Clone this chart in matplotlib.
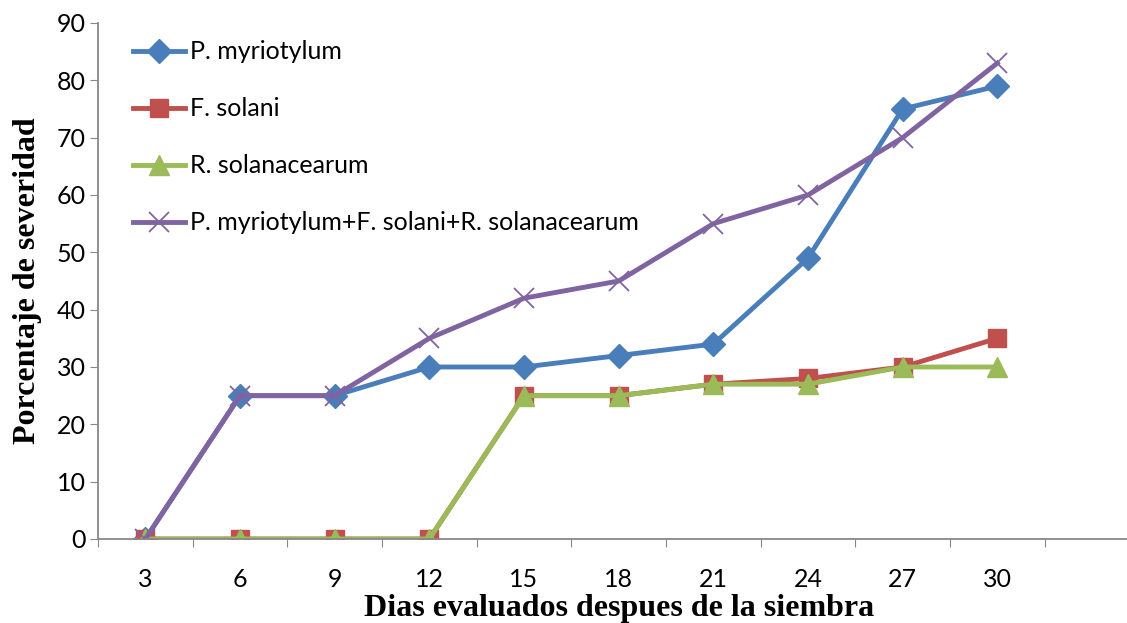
import numpy as np
import matplotlib.pyplot as plt

dias = ['3', '6', '9', '12', '15', '18', '21', '24', '27', '30']
p_myriotylum = [0, 25, 25, 30, 30, 32, 34, 49, 75, 79]
f_solani = [0, 0, 0, 0, 25, 25, 27, 28, 30, 35]
r_solanacearum = [0, 0, 0, 0, 25, 25, 27, 27, 30, 30]
combinado = [0, 25, 25, 35, 42, 45, 55, 60, 70, 83]

x = np.arange(len(dias))

fig = plt.figure(figsize=(11.27, 6.23), dpi=100)
ax = fig.add_axes([98/1127, 84/623, 1029/1127, 516/623])

ax.plot(x, p_myriotylum, color='#4A7EBB', lw=3.5, marker='D', ms=12, label='P. myriotylum')
ax.plot(x, f_solani, color='#C0504D', lw=3.5, marker='s', ms=12.5, label='F. solani')
ax.plot(x, r_solanacearum, color='#9BBB59', lw=3.5, marker='^', ms=14, label='R. solanacearum')
ax.plot(x, combinado, color='#8064A2', lw=3.5, marker='x', ms=15, mew=1.3,
        label='P. myriotylum+F. solani+R. solanacearum')

ax.set_xlim(-0.5, 10.37)
ax.set_ylim(0, 90)
ax.set_yticks(range(0, 91, 10))
ax.set_xticks(np.arange(-0.5, 10, 1))
ax.set_xticklabels([])
ax.set_xticks(x, minor=True)
ax.set_xticklabels(dias, minor=True)
ax.tick_params(axis='x', which='minor', length=0, pad=21, labelsize=18)
ax.tick_params(axis='x', which='major', length=6, color='#888888', direction='out')
ax.tick_params(axis='y', length=6, color='#888888', labelsize=18, pad=3)
for lbl in ax.get_xticklabels(minor=True) + ax.get_yticklabels():
    lbl.set_fontfamily('Lato')

for s in ['top', 'right']:
    ax.spines[s].set_visible(False)
for s in ['left', 'bottom']:
    ax.spines[s].set_color('#888888')
    ax.spines[s].set_linewidth(1.3)

ax.set_xlabel('Dias evaluados despues de la siembra', fontfamily='Liberation Serif',
              fontweight='bold', fontsize=23, labelpad=2)
ax.xaxis.label.set_x(0.506)
ax.set_ylabel('Porcentaje de severidad', fontfamily='Liberation Serif',
              fontweight='bold', fontsize=23, labelpad=10)

leg = ax.legend(loc='upper left', bbox_to_anchor=(0.012, 1.01), frameon=False,
                prop={'family': 'Lato', 'size': 18}, labelspacing=1.36,
                handlelength=2.1, handletextpad=0.2)

fig.savefig('out.png', dpi=100)
